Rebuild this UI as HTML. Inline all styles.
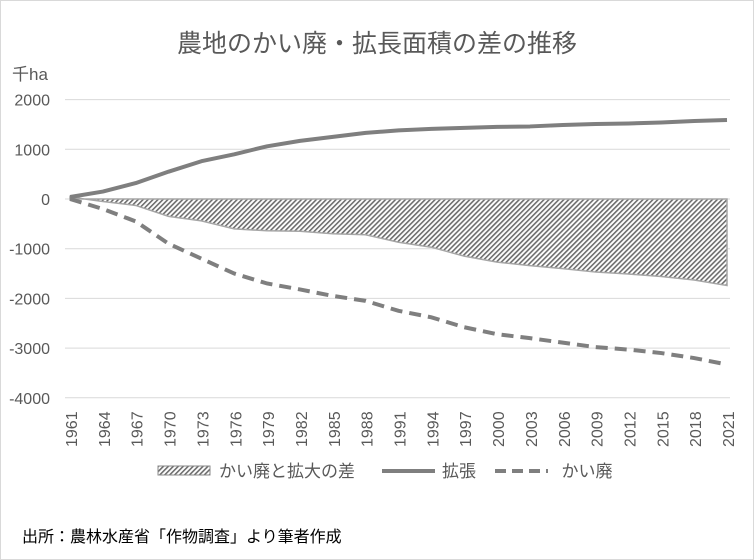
<!DOCTYPE html><html><head><meta charset="utf-8"><style>
body{margin:0;background:#fff}
svg{display:block;font-family:"Liberation Sans","Noto Sans CJK JP",sans-serif}
</style></head><body>
<svg id="s" width="754" height="560" viewBox="0 0 754 560">
<defs><pattern id="h" width="3.5" height="3.5" patternUnits="userSpaceOnUse" patternTransform="rotate(45)"><rect width="3.5" height="3.5" fill="#fff"/><rect width="1.6" height="3.5" fill="#6d6d6d"/></pattern></defs>
<rect x="0.5" y="0.5" width="753" height="559" fill="#fff" stroke="#d9d9d9"/>
<text x="377" y="52" font-size="25" fill="#595959" text-anchor="middle">農地のかい廃・拡長面積の差の推移</text>
<text x="12" y="80" font-size="17" fill="#595959">千ha</text>
<g id="g"></g>
<g font-size="17" fill="#595959" text-anchor="middle">
<rect x="158" y="466" width="52" height="9" fill="url(#h)" stroke="#8a8a8a"/>
<text x="287" y="477">かい廃と拡大の差</text>
<line x1="382" y1="471" x2="435" y2="471" stroke="#7f7f7f" stroke-width="4"/>
<text x="459" y="477">拡張</text>
<line x1="495" y1="471" x2="548" y2="471" stroke="#7f7f7f" stroke-width="4" stroke-dasharray="11,6"/>
<text x="587" y="477">かい廃</text>
</g>
<text x="22" y="542" font-size="16" fill="#000">出所：農林水産省「作物調査」より筆者作成</text>
</svg>
<script>
const Y=[1961,1964,1967,1970,1973,1976,1979,1982,1985,1988,1991,1994,1997,2000,2003,2006,2009,2012,2015,2018,2021];
const E=[40,150,320,550,760,900,1060,1170,1250,1330,1380,1410,1430,1450,1460,1490,1510,1520,1540,1570,1590];
const A=[0,-200,-450,-900,-1200,-1500,-1700,-1820,-1950,-2050,-2250,-2380,-2580,-2720,-2800,-2890,-2980,-3030,-3100,-3200,-3330];
const X=y=>70+(y-1961)*10.95, V=v=>199-v*0.0497;
let h='';
[2000,1000,0,-1000,-2000,-3000,-4000].forEach(v=>{h+=`<line x1="65" x2="730" y1="${V(v)}" y2="${V(v)}" stroke="#d9d9d9"/><text x="50" y="${V(v)+6}" font-size="16" fill="#595959" text-anchor="end">${v}</text>`});
let d=Y.map((y,i)=>`${X(y)},${V(E[i]+A[i])}`).join(' ');
h+=`<polygon points="${X(1961)},${V(0)} ${d} ${X(2021)},${V(0)}" fill="url(#h)" stroke="#a6a6a6" stroke-width="1.5"/>`;
h+=`<polyline points="${Y.map((y,i)=>X(y)+','+V(E[i])).join(' ')}" fill="none" stroke="#7f7f7f" stroke-width="4" stroke-linejoin="round"/>`;
h+=`<polyline points="${Y.map((y,i)=>X(y)+','+V(A[i])).join(' ')}" fill="none" stroke="#7f7f7f" stroke-width="4" stroke-dasharray="12,7"/>`;
Y.forEach(y=>{h+=`<text transform="translate(${X(y)+7},${447}) rotate(-90)" font-size="16" fill="#595959">${y}</text>`});
document.getElementById('g').innerHTML=h;
</script>
</body></html>
